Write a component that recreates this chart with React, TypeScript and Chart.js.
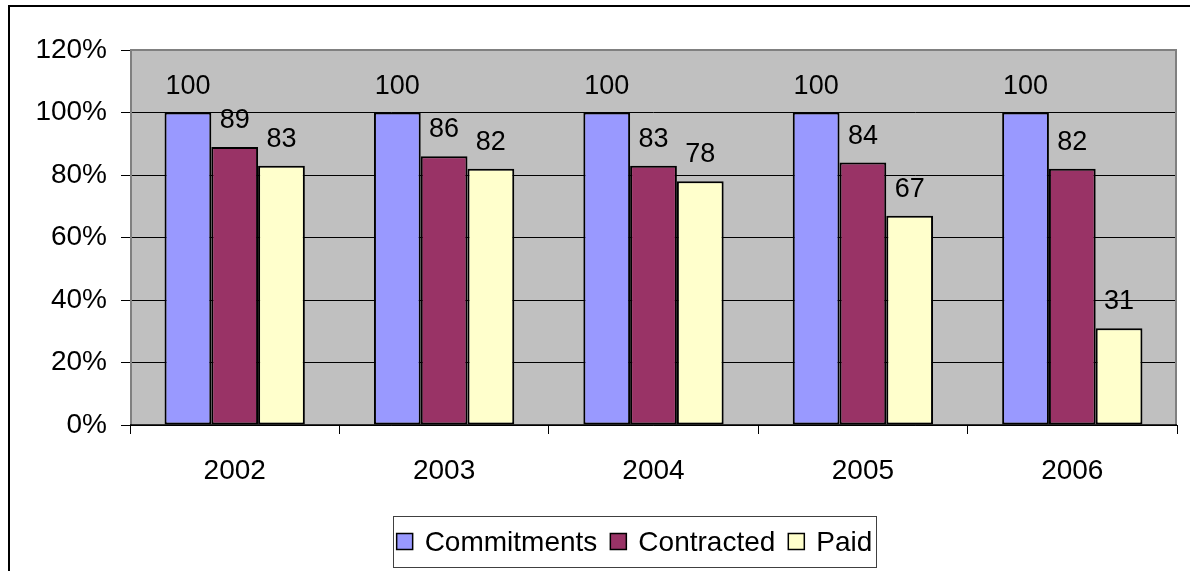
import React, { useEffect, useRef } from "react";
import { Chart, registerables } from "chart.js";

Chart.register(...registerables);

const categories = ["2002", "2003", "2004", "2005", "2006"];
const commitments = [100, 100, 100, 100, 100];
const contracted = [89, 86, 83, 84, 82];
const paid = [83, 82, 78, 67, 31];
const seriesNames = ["Commitments", "Contracted", "Paid"];
const seriesColors = ["#9999FF", "#993366", "#FFFFCC"];
const yTicks = [0, 20, 40, 60, 80, 100, 120];

const FONT = "Arial, 'Liberation Sans', sans-serif";

export default function App() {
  const ref = useRef<HTMLCanvasElement | null>(null);

  useEffect(() => {
    if (!ref.current) return;
    const framePlugin = {
      id: "frame",
      beforeDraw(chart: any) {
        const { ctx, chartArea: a } = chart;
        ctx.save();
        ctx.fillStyle = "#ffffff";
        ctx.fillRect(0, 0, chart.width, chart.height);
        ctx.fillStyle = "#C0C0C0";
        ctx.fillRect(a.left, a.top, a.right - a.left, a.bottom - a.top);
        ctx.restore();
      },
      afterDraw(chart: any) {
        const { ctx, chartArea: a } = chart;
        ctx.save();
        // plot frame
        ctx.strokeStyle = "#808080";
        ctx.lineWidth = 2;
        ctx.beginPath();
        ctx.moveTo(a.left + 1, a.bottom);
        ctx.lineTo(a.left + 1, a.top);
        ctx.lineTo(a.right - 1, a.top);
        ctx.lineTo(a.right - 1, a.bottom);
        ctx.stroke();
        // x axis line
        ctx.strokeStyle = "#000";
        ctx.lineWidth = 1.5;
        ctx.beginPath();
        ctx.moveTo(a.left, a.bottom);
        ctx.lineTo(a.right, a.bottom);
        ctx.stroke();
        // outer border
        ctx.strokeStyle = "#000";
        ctx.lineWidth = 2;
        ctx.beginPath();
        ctx.moveTo(9, chart.height);
        ctx.lineTo(9, 6);
        ctx.lineTo(chart.width, 6);
        ctx.stroke();

        // data labels
        ctx.fillStyle = "#000";
        ctx.font = "27px " + FONT;
        ctx.textAlign = "center";
        ctx.textBaseline = "alphabetic";
        chart.data.datasets.forEach((ds: any, di: number) => {
          const meta = chart.getDatasetMeta(di);
          meta.data.forEach((el: any, i: number) => {
            ctx.fillText(String(ds.data[i]), el.x, el.y - 19);
          });
        });

        // legend
        ctx.font = "28px " + FONT;
        ctx.textAlign = "left";
        const marker = 16;
        const gapMT = 12;
        const gapItem = 13;
        const widths = seriesNames.map((n) => ctx.measureText(n).width);
        let total = 0;
        widths.forEach((w, i) => {
          total += marker + gapMT + w + (i < widths.length - 1 ? gapItem : 0);
        });
        const boxL = 393;
        const boxR = 876;
        const boxT = 516;
        const boxB = 567;
        ctx.fillStyle = "#fff";
        ctx.fillRect(boxL, boxT, boxR - boxL, boxB - boxT);
        ctx.strokeStyle = "#404040";
        ctx.lineWidth = 1;
        ctx.strokeRect(boxL + 0.5, boxT + 0.5, boxR - boxL, boxB - boxT);
        let x = (boxL + boxR) / 2 - total / 2;
        const cy = 541.5;
        seriesNames.forEach((n, i) => {
          ctx.fillStyle = seriesColors[i];
          ctx.fillRect(x, cy - marker / 2, marker, marker);
          ctx.strokeStyle = "#000";
          ctx.lineWidth = 1.5;
          ctx.strokeRect(x, cy - marker / 2, marker, marker);
          ctx.fillStyle = "#000";
          ctx.fillText(n, x + marker + gapMT, 551);
          x += marker + gapMT + widths[i] + gapItem;
        });
        ctx.restore();
      },
    };

    const chart = new Chart(ref.current, {
      type: "bar",
      data: {
        labels: categories,
        datasets: [commitments, contracted, paid].map((d, i) => ({
          label: seriesNames[i],
          data: d,
          backgroundColor: seriesColors[i],
          borderColor: "#000",
          borderWidth: 2,
          borderSkipped: false,
          categoryPercentage: 0.67,
          barPercentage: 1,
        })),
      },
      options: {
        responsive: false,
        animation: false,
        devicePixelRatio: 1,
        layout: { padding: { top: 50, right: 13, left: 0, bottom: 0 } },
        plugins: { legend: { display: false }, tooltip: { enabled: false } },
        scales: {
          x: {
            grid: {
              offset: true,
              drawOnChartArea: false,
              drawTicks: true,
              tickLength: 9,
              color: "#000",
              lineWidth: 1,
            },
            border: { display: false },
            ticks: {
              color: "#000",
              font: { family: FONT, size: 28 },
              padding: 20,
            },
            afterFit(scale: any) {
              scale.height = 146;
            },
          },
          y: {
            min: 0,
            max: 120,
            afterBuildTicks(scale: any) {
              scale.ticks = yTicks.map((v) => ({ value: v }));
            },
            grid: {
              color: "#000",
              lineWidth: 1,
              tickLength: 9,
            },
            border: { display: false },
            ticks: {
              color: "#000",
              font: { family: FONT, size: 28 },
              padding: 14,
              callback: (v: any) => v + "%",
            },
            afterFit(scale: any) {
              scale.width = 130;
            },
          },
        },
      },
      plugins: [framePlugin],
    });
    return () => chart.destroy();
  }, []);

  return (
    <div style={{ position: "absolute", left: 0, top: 0, width: 1190, height: 571 }}>
      <canvas ref={ref} width={1190} height={571} />
    </div>
  );
}
